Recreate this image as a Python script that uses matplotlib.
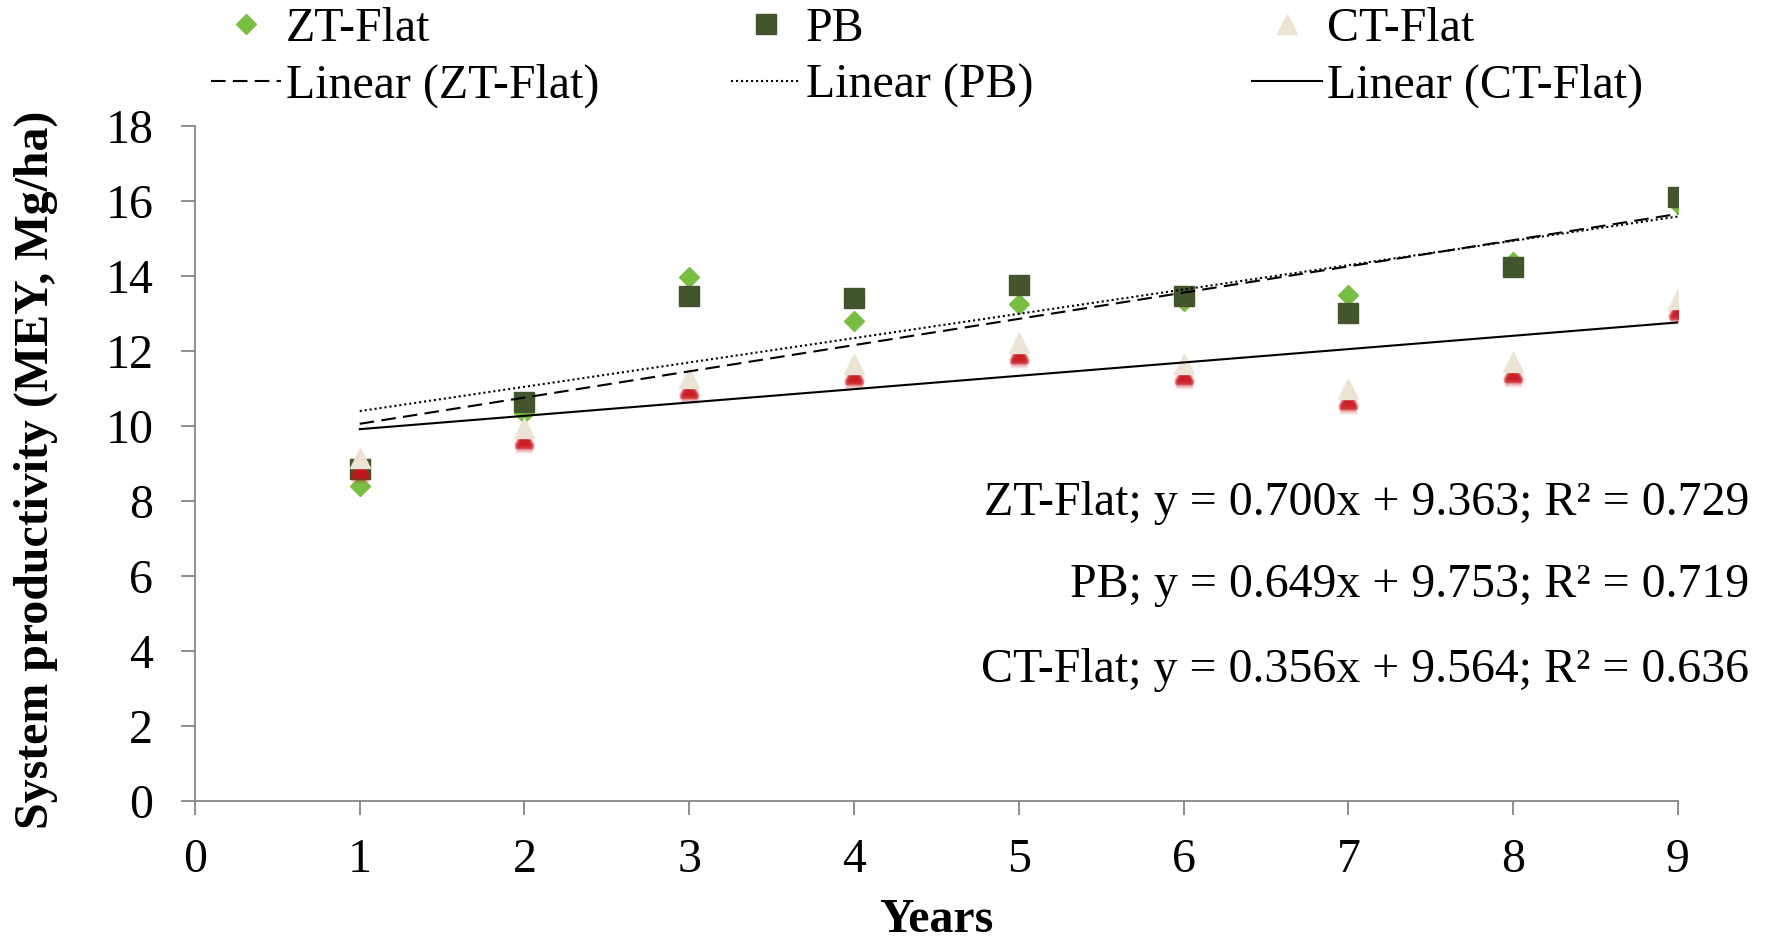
import numpy as np
import matplotlib
matplotlib.use("Agg")
import matplotlib.pyplot as plt
from matplotlib.transforms import offset_copy

# --- datos ---
years = [1, 2, 3, 4, 5, 6, 7, 8, 9]
zt_flat = [8.40, 10.34, 13.97, 12.81, 13.26, 13.34, 13.50, 14.39, 15.92]
pb = [8.85, 10.64, 13.48, 13.41, 13.77, 13.48, 13.03, 14.24, 16.11]
ct_flat = [9.16, 9.96, 11.29, 11.67, 12.22, 11.67, 10.99, 11.71, 13.40]

series_names = ["ZT-Flat", "PB", "CT-Flat"]
slopes = [0.700, 0.649, 0.356]
intercepts = [9.363, 9.753, 9.564]
r2 = [0.729, 0.719, 0.636]

x_ticks = [0, 1, 2, 3, 4, 5, 6, 7, 8, 9]
y_ticks = [0, 2, 4, 6, 8, 10, 12, 14, 16, 18]

FS = 34.5
plt.rcParams["font.family"] = ["Liberation Serif", "DejaVu Serif"]

fig = plt.figure(figsize=(17.69, 9.40), dpi=100)
ax = fig.add_axes([0.1102, 0.1479, 0.8383, 0.7177])

c_zt = "#78BE43"
c_pb = "#43552D"
c_ct = "#EDE3D4"
c_glow = "#C8141C"

# puntos
h_zt, = ax.plot(years, zt_flat, "D", ms=10, color=c_zt, mec=c_zt, zorder=3)
h_pb, = ax.plot(years, pb, "s", ms=14, color=c_pb, mec=c_pb, zorder=3.1)

# sombra roja difusa bajo los triángulos
for dy, a, ms in [(6, 0.25, 16), (8, 0.45, 15), (10, 0.6, 14),
                  (12, 0.45, 13.5), (14, 0.25, 13), (16, 0.12, 12.5)]:
    tr = offset_copy(ax.transData, fig=fig, x=0, y=-dy, units="dots")
    ax.plot(years, ct_flat, "^", ms=ms, color=c_glow, mec="none",
            alpha=a, transform=tr, zorder=3.15)
h_ct, = ax.plot(years, ct_flat, "^", ms=14, color=c_ct, mec=c_ct, zorder=3.2)

# líneas de tendencia
styles = [(0, (7, 3.5)), (0, (1, 1.4)), "-"]
line_handles = []
x_fit = np.array([years[0], years[-1]], dtype=float)
for m, b, ls in zip(slopes, intercepts, styles):
    h, = ax.plot(x_fit, m * x_fit + b, color="black", lw=1.5, ls=ls, zorder=4)
    line_handles.append(h)

ax.set_xlim(0, 9)
ax.set_ylim(0, 18)
ax.set_xticks(x_ticks)
ax.set_yticks(y_ticks)
for s in ["top", "right"]:
    ax.spines[s].set_visible(False)
for s in ["left", "bottom"]:
    ax.spines[s].set_color("#868686")
    ax.spines[s].set_linewidth(1.3)
ax.tick_params(axis="both", direction="out", length=10, width=1.3,
               color="#868686", labelsize=FS)
ax.tick_params(axis="x", pad=17)
ax.tick_params(axis="y", pad=20)

ax.set_xlabel("Years", fontsize=FS, fontweight="bold", va="baseline")
ax.xaxis.set_label_coords(0.5, -0.1937)
ax.set_ylabel("System productivity (MEY, Mg/ha)", fontsize=FS, fontweight="bold")
ax.yaxis.label.set_va("center")
ax.yaxis.set_label_coords(-0.1072, 0.4907)

# ecuaciones de las tendencias
eq_y = [0.4521, 0.3646, 0.2748]
for name, m, b, r, yy in zip(series_names, slopes, intercepts, r2, eq_y):
    fig.text(0.9887, yy, f"{name}; y = {m:.3f}x + {b:.3f}; R\u00b2 = {r:.3f}",
             ha="right", va="baseline", fontsize=FS)

# leyenda: tres columnas independientes
pt_handles = [h_zt, h_pb, h_ct]
leg_x = [211, 731, 1252]
for name, hp, hl, lx in zip(series_names, pt_handles, line_handles, leg_x):
    fig.legend([hp, hl], [name, f"Linear ({name})"], loc="center left",
               bbox_to_anchor=(lx / 1769, 1 - 57.5 / 940),
               frameon=False, borderpad=0, borderaxespad=0,
               handlelength=1.46, handletextpad=0.1, labelspacing=0.27,
               numpoints=1, fontsize=FS)

fig.savefig("out.png", dpi=100)
